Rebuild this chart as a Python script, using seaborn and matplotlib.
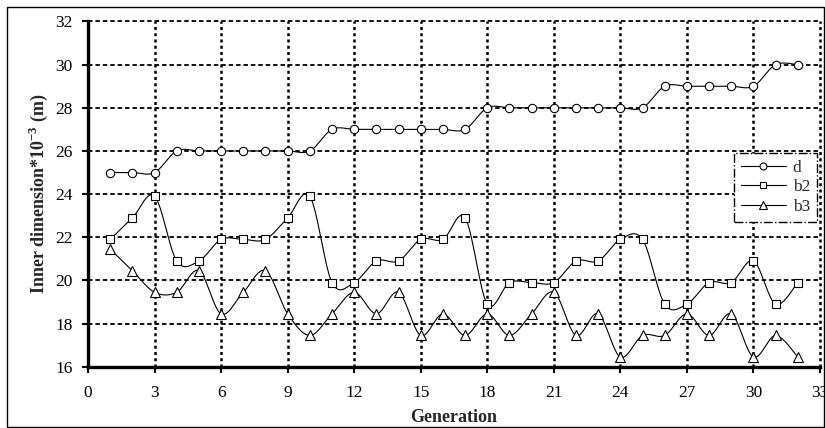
import numpy as np
import pandas as pd
import matplotlib
matplotlib.use("Agg")
import matplotlib.pyplot as plt
from matplotlib.lines import Line2D
from matplotlib.patches import Rectangle
import seaborn as sns

# ---- data -------------------------------------------------------------
generation = list(range(1, 33))
d = [25, 25, 25, 26, 26, 26, 26, 26, 26, 26,
     27, 27, 27, 27, 27, 27, 27, 28, 28, 28,
     28, 28, 28, 28, 28, 29, 29, 29, 29, 29,
     30, 30]
b2 = [21.9, 22.9, 23.9, 20.9, 20.9, 21.9, 21.9, 21.9, 22.9, 23.9,
      19.9, 19.9, 20.9, 20.9, 21.9, 21.9, 22.9, 18.9, 19.9, 19.9,
      19.9, 20.9, 20.9, 21.9, 21.9, 18.9, 18.9, 19.9, 19.9, 20.9,
      18.9, 19.9]
b3 = [21.45, 20.45, 19.45, 19.45, 20.45, 18.45, 19.45, 20.45, 18.45, 17.45,
      18.45, 19.45, 18.45, 19.45, 17.45, 18.45, 17.45, 18.45, 17.45, 18.45,
      19.45, 17.45, 18.45, 16.45, 17.45, 17.45, 18.45, 17.45, 18.45, 16.45,
      17.45, 16.45]
series_names = ["d", "b2", "b3"]
x_ticks = list(range(0, 34, 3))
y_ticks = list(range(16, 33, 2))

series = {"d": d, "b2": b2, "b3": b3}
markers = {"d": "o", "b2": "s", "b3": "^"}
msizes = {"d": 6, "b2": 5.5, "b3": 6.5}


def smooth_curve(xs, ys, steps=24):
    """Smoothed connecting line (cubic Bezier through every point)."""
    pts = np.column_stack([xs, ys]).astype(float)
    n = len(pts)
    out = [pts[0]]
    t = np.linspace(0, 1, steps + 1)[1:, None]
    for i in range(n - 1):
        p0 = pts[i - 1] if i > 0 else pts[i]
        p1 = pts[i]
        p2 = pts[i + 1]
        p3 = pts[i + 2] if i + 2 < n else pts[i + 1]
        c1 = p1 + (p2 - p0) / 6.0
        c2 = p2 - (p3 - p1) / 6.0
        seg = ((1 - t) ** 3) * p1 + 3 * ((1 - t) ** 2) * t * c1 \
            + 3 * (1 - t) * t ** 2 * c2 + t ** 3 * p2
        out.extend(seg)
    out = np.array(out)
    return out[:, 0], out[:, 1]


sns.set_theme(style="white")
plt.rcParams["font.family"] = ["Liberation Serif", "DejaVu Serif"]
plt.rcParams["mathtext.fontset"] = "custom"
plt.rcParams["mathtext.rm"] = "Liberation Serif"
plt.rcParams["mathtext.bf"] = "Liberation Serif:bold"

fig = plt.figure(figsize=(8.25, 4.28), dpi=100)
fig.patch.set_facecolor("white")
ax = fig.add_axes([0.1067, 0.1432, 0.8872, 0.8066])

# grid: dashed horizontals, dotted verticals (the ones on the frame edge too)
for yv in y_ticks[1:]:
    ax.axhline(yv, color="black", lw=1.3, linestyle=(0, (2.5, 1.6)),
               zorder=1, clip_on=False)
for xv in x_ticks[1:]:
    ax.axvline(xv, color="black", lw=1.8, linestyle=(0, (1.2, 1.3)),
               zorder=1, clip_on=False)

long = []
for name in series_names:
    xs_s, ys_s = smooth_curve(generation, series[name])
    ax.plot(xs_s, ys_s, color="black", lw=0.8, zorder=3)
    for g, v in zip(generation, series[name]):
        long.append({"Generation": g, "value": v, "series": name})
df = pd.DataFrame(long)

for name in series_names:
    sub = df[df["series"] == name]
    sns.lineplot(data=sub, x="Generation", y="value", ax=ax,
                 linestyle="none", marker=markers[name],
                 markersize=msizes[name], markerfacecolor="white",
                 markeredgecolor="black", markeredgewidth=0.8,
                 color="black", zorder=4, legend=False)

ax.set_xlim(0, 33)
ax.set_ylim(16, 32)
ax.set_xticks(x_ticks)
ax.set_yticks(y_ticks)
ax.tick_params(axis="both", direction="out", length=4, width=1.5,
               color="black", labelsize=12.5, labelcolor="black")
ax.tick_params(axis="y", pad=7, left=True)
ax.tick_params(axis="x", pad=9, bottom=True)

for side in ["top", "right"]:
    ax.spines[side].set_visible(False)
for side in ["left", "bottom"]:
    ax.spines[side].set_linewidth(2.4)
    ax.spines[side].set_color("black")
    ax.spines[side].set_zorder(5)

ax.set_xlabel("Generation", fontsize=13, fontweight="bold", labelpad=6)
ax.set_ylabel(r"Inner dimension*10$^{\mathbf{-3}}$ (m)", fontsize=13,
              fontweight="bold", labelpad=4)

handles = [Line2D([0], [0], color="black", lw=0.8, marker=markers[n],
                  markersize=msizes[n] - 1, markerfacecolor="white",
                  markeredgecolor="black", markeredgewidth=0.8)
           for n in series_names]
leg = ax.legend(handles, series_names, loc="upper right",
                bbox_to_anchor=(0.996, 0.62), borderaxespad=0,
                fontsize=12.5, frameon=True, fancybox=False,
                handlelength=2.6, handletextpad=0.4, labelspacing=0.2,
                borderpad=0.4)
frame = leg.get_frame()
frame.set_edgecolor("black")
frame.set_linewidth(1.0)
frame.set_linestyle("-.")
frame.set_facecolor("white")
frame.set_alpha(1)
leg.set_zorder(6)

# outer border around the whole chart
fig.patches.append(Rectangle((0.0085, 0.003), 0.99, 0.981,
                             transform=fig.transFigure, fill=False,
                             edgecolor="black", lw=1.0, zorder=0))

fig.savefig("out.png", dpi=100)
